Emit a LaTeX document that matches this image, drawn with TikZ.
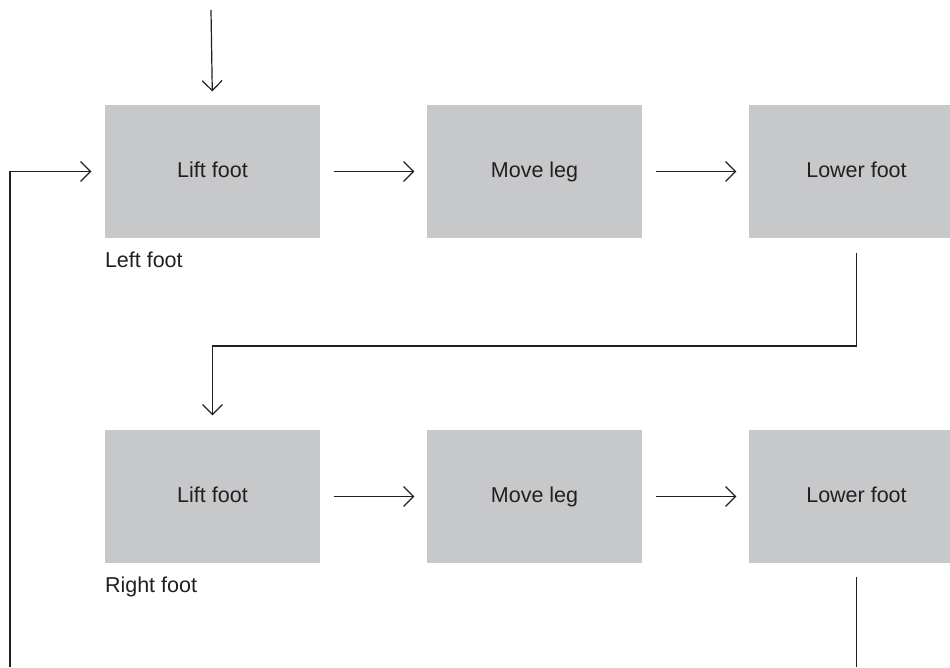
\documentclass[tikz,border=0pt]{standalone}
\usepackage{fontspec}
\setmainfont{Liberation Sans}
\usetikzlibrary{positioning, arrows.meta}

\definecolor{boxgray}{RGB}{199,200,202}
\definecolor{inkgray}{RGB}{35,31,32}

\begin{document}
\begin{tikzpicture}[x=1pt, y=1pt, node distance=322pt, on grid,
        >={Straight Barb[length=10pt, width=20pt]}, line width=1.2pt, draw=inkgray]
                \tikzset{stepbox/.style={fill=boxgray, minimum width=215pt, minimum height=133pt,
                        inner sep=0pt, text=inkgray, text height=15.5pt, text depth=4.5pt,
                        font=\fontsize{21.5}{26}\selectfont}}
                \tikzset{footlabel/.style={inner sep=0pt, anchor=north west, text=inkgray,
                        font=\fontsize{21.5}{26}\selectfont}}
                \useasboundingbox (0,0) rectangle (950,-667);

                \node[stepbox] (lift1) at (212.5,-171.5) {Lift foot};
                \node[stepbox] (move1) [right=of lift1] {Move leg};
                \node[stepbox] (lower1) [right=of move1] {Lower foot};

                \node[stepbox] (lift2) [below=325pt of lift1] {Lift foot};
                \node[stepbox] (move2) [right=of lift2] {Move leg};
                \node[stepbox] (lower2) [right=of move2] {Lower foot};

                \node[footlabel] (leftlbl) at ([yshift=-13pt]lift1.south west) {Left foot};
                \node[footlabel] (rightlbl) at ([yshift=-13pt]lift2.south west) {Right foot};

                \path[->, draw=inkgray, shorten <=13pt, shorten >=12pt]
                    (lift1) edge (move1)
                    (move1) edge (lower1)
                    (lift2) edge (move2)
                    (move2) edge (lower2);

                \coordinate (entry) at (211,-10);
                \coordinate (turn) at (lower1.south |- 0,-346);
                \coordinate (loopend) at (10,-667);

                \draw[->, shorten >=13pt] (entry) -- (lift1.north);
                \draw[->, shorten <=14pt, shorten >=14pt] (lower1.south) -- (turn) -| (lift2.north);
                \draw[shorten <=13pt] (lower2.south) -- (lower2.south |- loopend);
                \draw[->, shorten >=13pt] (loopend) |- (lift1.west);

            \end{tikzpicture}
\end{document}
